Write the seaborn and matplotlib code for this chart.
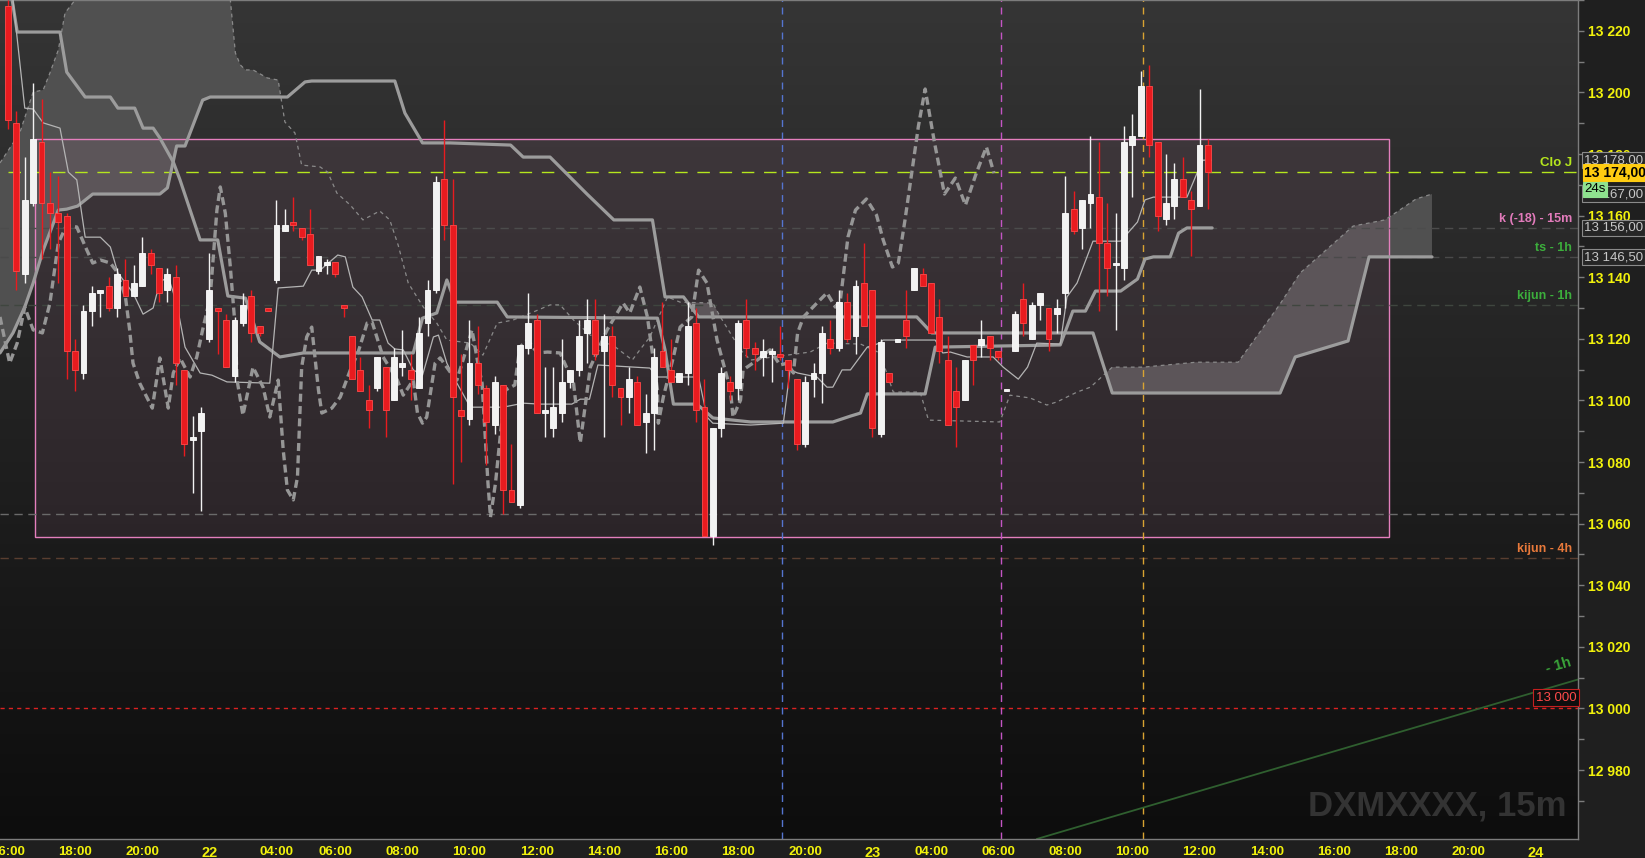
import numpy as np
import pandas as pd
import matplotlib
matplotlib.use("Agg")
import matplotlib.pyplot as plt
import matplotlib.transforms as mtransforms
from matplotlib.patches import Rectangle
import seaborn as sns

sns.set_theme(style="dark")
plt.rcParams['font.family'] = ['Liberation Sans', 'DejaVu Sans']

# 15m candles, bar 0 = day 21 16:00
opens = [13228, 13190, 13141, 13164, 13184, 13164, 13161, 13160, 13116, 13109,
         13129, 13135, 13137, 13130, 13139, 13134, 13137, 13148, 13143, 13136,
         13140, 13110, 13087, 13090, 13120, 13130, 13126, 13108, 13125, 13134,
         13124, 13130, 13139, 13155, 13158, 13156, 13154, 13142, 13144, 13145,
         13131, 13121, 13110, 13100, 13104, 13111, 13100, 13111, 13110, 13104,
         13125, 13136, 13172, 13157, 13097, 13094, 13112, 13104, 13092, 13105,
         13071, 13066, 13117, 13126, 13096, 13091, 13096, 13106, 13110, 13122,
         13126, 13116, 13121, 13104, 13101, 13106, 13093, 13096, 13116, 13110,
         13106, 13109, 13125, 13098, 13056, 13091, 13106, 13104, 13126, 13117,
         13114, 13115, 13115, 13113, 13107, 13086, 13107, 13109, 13120, 13117,
         13132, 13121, 13138, 13136, 13089, 13109, 13119, 13126, 13136, 13141,
         13138, 13127, 13113, 13103, 13100, 13118, 13118, 13121, 13116, 13103,
         13116, 13133, 13120, 13131, 13130, 13128, 13135, 13162, 13156, 13164,
         13166, 13151, 13144, 13143, 13183, 13186, 13202, 13184, 13159, 13163,
         13172, 13165, 13163, 13183]
highs = [13230, 13194, 13179, 13203, 13198, 13174, 13173, 13161, 13120, 13131,
         13137, 13136, 13140, 13143, 13146, 13144, 13153, 13149, 13143, 13143,
         13144, 13110, 13095, 13098, 13148, 13130, 13128, 13127, 13135, 13136,
         13124, 13130, 13165, 13162, 13166, 13156, 13162, 13147, 13146, 13145,
         13131, 13121, 13114, 13105, 13114, 13111, 13117, 13123, 13115, 13127,
         13139, 13173, 13191, 13172, 13115, 13126, 13124, 13105, 13108, 13105,
         13086, 13118, 13135, 13128, 13111, 13111, 13120, 13110, 13126, 13133,
         13133, 13128, 13124, 13104, 13111, 13108, 13102, 13117, 13132, 13120,
         13109, 13132, 13130, 13107, 13091, 13111, 13108, 13126, 13133, 13119,
         13120, 13117, 13124, 13113, 13107, 13108, 13112, 13124, 13126, 13136,
         13135, 13139, 13151, 13136, 13120, 13109, 13120, 13136, 13143, 13143,
         13138, 13133, 13121, 13111, 13113, 13118, 13126, 13121, 13116, 13103.5,
         13129, 13138, 13132, 13135, 13130, 13133, 13173, 13168, 13165, 13186,
         13184, 13164, 13161, 13189, 13193, 13207, 13209, 13184, 13180, 13177,
         13179, 13168, 13201, 13185]
lows = [13188, 13136, 13138, 13163, 13146, 13149, 13138, 13107, 13103, 13107,
        13124, 13127, 13129, 13127, 13134, 13134, 13137, 13141, 13132, 13132,
        13105, 13082, 13070, 13064, 13119, 13115, 13111, 13106, 13124, 13119,
        13121, 13129, 13138, 13155, 13155, 13152, 13144, 13141, 13141, 13140,
        13127, 13107, 13103, 13091, 13103, 13088, 13100, 13108, 13100, 13104,
        13121, 13135, 13152, 13073, 13080, 13092, 13102, 13079, 13089, 13063,
        13067, 13065, 13115, 13096, 13088, 13088, 13093, 13104, 13108, 13112,
        13113, 13088, 13101, 13092, 13096, 13092, 13083, 13084, 13111, 13106,
        13106, 13105, 13093, 13056, 13053, 13088, 13100, 13100, 13114, 13110,
        13108, 13106, 13113, 13104, 13084, 13085, 13101, 13099, 13115, 13116,
        13119, 13115, 13124, 13088, 13088, 13106, 13119, 13117, 13136, 13137,
        13122, 13112, 13092, 13085, 13100, 13105, 13114, 13113, 13113, 13103,
        13116, 13121, 13120, 13126, 13116, 13122, 13130, 13154, 13149, 13156,
        13129, 13134, 13123, 13139, 13166, 13186, 13179, 13155, 13157, 13159,
        13166, 13147, 13163, 13162]
closes = [13191, 13142, 13165, 13185, 13164, 13161, 13158, 13116, 13110, 13129,
          13135, 13136, 13130, 13141, 13134, 13138, 13148, 13144, 13135, 13141,
          13112, 13086, 13088, 13096, 13136, 13129, 13111, 13126, 13131, 13122,
          13122, 13129, 13157, 13157, 13157, 13153, 13144, 13147, 13145, 13141,
          13130, 13107, 13103, 13097, 13114, 13097, 13114, 13112, 13107, 13122,
          13136, 13171, 13157, 13101, 13095, 13112, 13105, 13093, 13106, 13071,
          13067, 13118, 13125, 13096, 13097, 13098, 13106, 13110, 13121, 13126,
          13115, 13121, 13105, 13101, 13107, 13092, 13096, 13114, 13111, 13106,
          13109, 13124, 13097, 13056, 13091, 13109, 13103, 13125, 13117, 13115,
          13116, 13116, 13114, 13110, 13086, 13106, 13109, 13122, 13117, 13132,
          13120, 13137, 13124, 13091, 13119, 13106, 13120, 13121, 13143, 13137,
          13122, 13116, 13092, 13098, 13113, 13113, 13120, 13117, 13114, 13103.5,
          13128, 13125, 13131, 13135, 13120, 13130, 13161, 13155, 13165, 13167,
          13151, 13143, 13144.5, 13184, 13186, 13202, 13183, 13160, 13164, 13172,
          13166, 13162, 13183, 13174]

# indicator lines, (bar, price) vertices
base_x = [0.5, 1.1, 6.2, 7.0, 9.2, 12.2, 13.1, 15.1, 16.1, 17.3, 18.1, 19.7, 20.5, 22.9,
          25.0, 26.2, 28.3, 30.0, 32.4, 35.2, 48.3, 49.4, 51.1, 52.3, 53.3, 58.3, 59.5,
          77.4, 78.3, 79.3, 82.1, 84.0, 88.5, 98.3, 100.4, 101.6, 102.4, 109.3, 110.5,
          125.4, 126.2, 126.9, 128.4, 129.6, 132.6, 134.6, 135.5, 136.5, 138.5, 139.5,
          140.5, 143.5]
base_y = [13230, 13219.6, 13219.6, 13206.6, 13198.5, 13198.5, 13194.9, 13194.9, 13188.4,
          13188.4, 13185.2, 13177.4, 13171.6, 13152.1, 13152.1, 13133.9, 13133.2, 13119.0,
          13114.1, 13115.4, 13115.4, 13126.7, 13128.4, 13139.1, 13131.9, 13131.9, 13127.1,
          13126.7, 13116.4, 13098.8, 13098.8, 13094.3, 13093.0, 13093.0, 13094.9, 13095.9,
          13102.1, 13102.1, 13117.3, 13118.0, 13123.8, 13129.0, 13129.0, 13135.5, 13135.5,
          13139.4, 13145.9, 13146.6, 13146.6, 13154.3, 13156.0, 13156.0]

spanb_x = [-0.95, 0.6, 2.0, 3.0, 4.2, 6.0, 7.0, 8.3, 10.1, 18.1, 19.0, 20.1, 21.1, 23.2,
           24.1, 33.3, 35.4, 36.2, 46.1, 47.3, 49.4, 52.7, 59.9, 61.4, 64.6, 69.0, 72.2,
           76.8, 78.3, 80.5, 82.3, 108.3, 110.1, 129.3, 131.6, 151.6, 153.4, 159.7, 162.2,
           169.7]
spanb_y = [13115.4, 13121.9, 13130.3, 13138.1, 13148.8, 13161.8, 13162.1, 13163.1, 13167.0,
           13167.0, 13169.0, 13182.6, 13182.6, 13197.5, 13198.5, 13198.5, 13203.4, 13203.7,
           13203.7, 13193.3, 13183.6, 13183.6, 13182.9, 13179.0, 13179.0, 13167.0, 13158.6,
           13158.6, 13133.6, 13133.6, 13127.1, 13127.1, 13121.9, 13121.9, 13102.4, 13102.4,
           13114.1, 13119.3, 13146.6, 13146.6]

spana_x = [-0.95, 1.4, 3.0, 4.2, 5.0, 6.0, 6.8, 8.0, 11.0, 22.9, 26.5, 27.1, 27.7, 28.3,
           29.2, 30.9, 32.2, 33.0, 34.2, 35.0, 37.2, 38.1, 39.2, 40.8, 42.3, 44.3, 45.5,
           46.5, 47.7, 49.5, 51.1, 52.3, 55.1, 56.6, 58.3, 60.2, 62.6, 64.6, 65.8, 67.4,
           69.4, 72.4, 74.4, 75.3, 76.5, 78.6, 80.1, 84.0, 84.9, 87.3, 88.5, 91.2, 95.6,
           97.6, 101.6, 103.9, 105.5, 108.7, 109.7, 118.2, 119.4, 121.8, 123.8, 125.0,
           127.4, 129.0, 131.6, 135.3, 141.6, 146.6, 151.6, 154.0, 160.3, 164.1, 167.8,
           169.7]
spana_y = [13177.1, 13186.8, 13200.1, 13200.8, 13206.3, 13213.8, 13225.8, 13230, 13243,
           13243, 13230, 13212.8, 13208.9, 13207.3, 13207.3, 13204.7, 13204.0, 13190.4,
           13186.8, 13176.4, 13175.8, 13174.1, 13167.3, 13163.4, 13158.6, 13161.5, 13158.6,
           13150.4, 13138.1, 13130.3, 13125.1, 13119.6, 13118.6, 13114.7, 13125.1, 13126.1,
           13128.7, 13131.0, 13131.0, 13126.1, 13121.2, 13117.3, 13113.1, 13116.4, 13120.6,
           13133.6, 13131.9, 13131.6, 13127.1, 13116.4, 13113.1, 13114.1, 13115.7, 13118.6,
           13118.3, 13115.4, 13102.7, 13102.7, 13093.6, 13093.0, 13101.7, 13100.8, 13098.5,
           13099.5, 13102.7, 13104.3, 13110.8, 13110.8, 13112.4, 13112.4, 13131.3, 13141.4,
           13156.6, 13158.6, 13165.4, 13167.0]

conv_x = [0.6, 2.0, 3.0, 4.2, 6.2, 7.2, 8.2, 9.2, 11.0, 12.2, 13.1, 14.9, 16.1, 17.3, 18.1,
          19.1, 20.1, 21.1, 22.9, 24.3, 26.1, 31.2, 32.2, 35.2, 36.2, 37.2, 39.3, 40.2,
          41.1, 42.2, 43.4, 44.3, 45.3, 46.1, 47.1, 48.3, 49.4, 50.7, 51.3, 52.3, 53.5,
          55.1, 59.0, 61.4, 63.4, 67.2, 68.2, 69.3, 70.3, 76.5, 77.4, 82.3, 83.3, 84.0,
          88.5, 92.4, 93.2, 94.1, 96.4, 97.6, 98.3, 99.4, 100.4, 102.4, 103.9, 104.3,
          110.5, 111.4, 112.3, 114.3, 117.4, 118.6, 120.4, 121.5, 122.6, 125.4, 126.2,
          127.4, 129.3, 132.6, 134.6, 135.5, 136.5, 140.5, 141.7, 142.4, 143.4]
conv_y = [13230, 13194.9, 13194.6, 13190.1, 13188.4, 13174.1, 13171.6, 13153.0, 13153.0,
          13149.8, 13141.4, 13134.9, 13128.0, 13130.0, 13138.4, 13140.1, 13131.6, 13117.3,
          13108.9, 13108.2, 13106.0, 13105.6, 13136.5, 13137.1, 13142.3, 13142.3, 13147.2,
          13146.6, 13136.8, 13133.6, 13126.1, 13126.1, 13118.6, 13116.7, 13116.4, 13109.9,
          13108.2, 13120.6, 13121.2, 13112.1, 13105.6, 13097.8, 13097.8, 13099.1, 13098.8,
          13098.8, 13100.4, 13100.4, 13111.5, 13110.5, 13107.6, 13107.6, 13094.6, 13092.6,
          13092.0, 13092.6, 13109.9, 13108.9, 13107.6, 13104.3, 13104.3, 13109.9, 13109.9,
          13117.3, 13118.6, 13119.6, 13119.6, 13115.4, 13115.7, 13114.1, 13114.1, 13110.8,
          13106.9, 13110.8, 13118.6, 13118.3, 13133.6, 13138.1, 13151.7, 13151.7, 13157.9,
          13165.1, 13166.0, 13166.0, 13173.8, 13178.0, 13178.0]

lag_x = [-0.95, 0.2, 1.1, 2.0, 3.0, 4.1, 5.0, 6.0, 7.0, 8.2, 9.4, 10.1, 11.0, 12.2, 13.0,
         14.0, 14.5, 14.9, 15.7, 17.2, 18.1, 19.1, 19.7, 20.5, 21.7, 22.5, 23.2, 24.1,
         24.9, 25.3, 25.9, 26.5, 27.1, 27.3, 28.0, 29.2, 30.4, 31.2, 32.2, 32.8, 33.3,
         34.0, 34.5, 35.0, 35.6, 36.2, 37.0, 37.4, 38.6, 39.6, 40.8, 41.7, 42.8, 43.4,
         44.7, 46.4, 47.1, 48.3, 48.8, 49.4, 49.9, 50.9, 51.5, 52.7, 53.5, 54.7, 55.3,
         56.0, 56.5, 57.2, 57.5, 58.1, 58.7, 59.3, 60.4, 61.0, 61.9, 63.1, 64.3, 65.8,
         67.4, 68.2, 69.4, 71.4, 73.3, 74.1, 75.3, 76.2, 77.4, 77.5, 78.1, 79.3, 80.1,
         81.5, 82.3, 83.3, 84.5, 86.1, 86.4, 87.3, 87.6, 89.3, 90.8, 92.0, 92.9, 93.6,
         94.1, 94.8, 96.4, 97.6, 98.6, 99.2, 100.1, 101.0, 102.3, 103.5, 104.3, 105.4,
         106.1, 106.9, 108.5, 109.3, 110.4, 111.6, 112.9, 114.1, 115.4, 116.6, 117.5]
lag_y = [13127.1, 13112.1, 13118.6, 13130.3, 13122.9, 13121.9, 13131.6, 13151.1, 13156.9,
         13156.3, 13148.8, 13144.6, 13145.6, 13144.6, 13141.7, 13133.6, 13122.9, 13112.1,
         13105.6, 13097.5, 13113.8, 13097.5, 13108.9, 13113.8, 13107.6, 13114.1, 13122.9,
         13133.6, 13161.8, 13169.3, 13160.8, 13143.3, 13122.9, 13106.6, 13095.2, 13110.8,
         13104.3, 13094.6, 13106.6, 13083.9, 13070.9, 13067.7, 13075.1, 13110.8, 13120.6,
         13123.8, 13103.4, 13095.9, 13097.5, 13101.1, 13109.9, 13115.4, 13125.1, 13125.4,
         13114.1, 13106.6, 13101.7, 13106.6, 13095.9, 13092.6, 13094.6, 13112.1, 13113.8,
         13109.2, 13106.6, 13117.3, 13122.9, 13112.1, 13105.6, 13073.2, 13062.1, 13073.2,
         13089.4, 13103.4, 13105.0, 13117.3, 13119.6, 13115.4, 13115.7, 13115.4, 13105.6,
         13086.2, 13110.8, 13122.9, 13131.6, 13128.4, 13136.8, 13127.1, 13103.4, 13092.6,
         13101.1, 13114.1, 13123.8, 13127.1, 13142.3, 13138.1, 13119.6, 13103.4, 13094.6,
         13100.1, 13109.9, 13113.1, 13116.4, 13111.5, 13112.1, 13108.9, 13121.9, 13127.1,
         13131.6, 13134.9, 13130.3, 13132.6, 13153.0, 13161.8, 13165.4, 13160.2, 13152.1,
         13143.3, 13144.6, 13158.6, 13189.1, 13201.1, 13183.9, 13167.0, 13172.2, 13163.4,
         13173.8, 13182.3, 13173.8]

trend_x = [122.6, 187.1]
trend_y = [12957.6, 13009.4]

range_box = (3.2, 164.6, 13055.5, 13185.0)   # bar from, bar to, low, high
session_lines = [(92.3, '#5575d0'), (118.3, '#c455c4'), (135.3, '#d9a332')]

levels = [
    (13174.0, '#b5e61d', 'Clo J', '#b5e61d'),
    (13156.0, '#4c4c4c', 'k (-18) - 15m', '#e27bbb'),
    (13146.5, '#4a4a4a', 'ts - 1h', '#3cae3c'),
    (13131.0, '#3f463f', 'kijun - 1h', '#3cae3c'),
    (13063.0, '#6a6a6a', '', ''),
    (13048.7, '#5a3e30', 'kijun - 4h', '#e8793a'),
]

tick_pos = [0, 8, 16, 24, 32, 39, 47, 55, 63, 71, 79, 87, 95, 103, 110, 118, 126, 134,
            142, 150, 158, 166, 174, 182]
tick_lab = ['16:00', '18:00', '20:00', '22', '04:00', '06:00', '08:00', '10:00', '12:00',
            '14:00', '16:00', '18:00', '20:00', '23', '04:00', '06:00', '08:00', '10:00',
            '12:00', '14:00', '16:00', '18:00', '20:00', '24']

price_tags = [(13178.0, '13 178,00'), (13167.0, '13 167,00'), (13156.0, '13 156,00'),
              (13146.5, '13 146,50')]
last_price = 13174.0

XMIN, XMAX = -0.95, 187.1
YMIN, YMAX = 12957.6, 13230.0

candles = pd.DataFrame({'open': opens, 'high': highs, 'low': lows, 'close': closes})
candles['bar'] = np.arange(len(candles))
candles['up'] = candles['close'] >= candles['open']

fig = plt.figure(figsize=(16.45, 8.58), dpi=100, facecolor='#1f1f1f')
ax = fig.add_axes([0, 19 / 858, 1578 / 1645, 839 / 858])

# background gradient, lighter at the top
grad = np.linspace(0, 1, 256).reshape(-1, 1)
bg = matplotlib.colors.LinearSegmentedColormap.from_list('bg', ['#353535', '#0d0d0d'])
ax.imshow(grad, extent=[XMIN, XMAX, YMIN, YMAX], aspect='auto', cmap=bg, zorder=0,
          origin='upper')

# cloud between span A and span B (where A above B)
gx = np.union1d(spana_x, spanb_x)
ga = np.interp(gx, spana_x, spana_y)
gb = np.interp(gx, spanb_x, spanb_y)
ax.fill_between(gx, gb, ga, where=ga > gb, interpolate=True, color='#505050',
                lw=0, zorder=1)

# range rectangle
x0, x1, lo, hi = range_box
ax.add_patch(Rectangle((x0, lo), x1 - x0, hi - lo, facecolor=(0.95, 0.6, 0.8, 0.08),
                       edgecolor='#e47fbd', lw=1.0, zorder=1.5))

# horizontal levels
for y, lc, txt, tc in levels:
    ax.hlines(y, 0 if txt == 'Clo J' else XMIN, XMAX, colors=lc, lw=1.0,
              linestyles=(0, (9, 7)) if txt == 'Clo J' else (0, (6, 4)), zorder=2)
    if txt:
        ax.text(186.4, y + 1.0, txt, color=tc, fontsize=9.5 if txt == 'Clo J' else 9,
                fontweight='bold', ha='right', va='bottom', zorder=6)
ax.hlines(13000, XMIN, XMAX, colors='#dc2222', lw=1.0, linestyles=(0, (3, 3)), zorder=2)

# session separators
for sx, sc in session_lines:
    ax.vlines(sx, YMIN, YMAX, colors=sc, lw=1.0, linestyles=(0, (5, 4)), zorder=2)

# trend line
sns.lineplot(x=trend_x, y=trend_y, ax=ax, color='#2f5f2f', linewidth=1.3, zorder=2)
ax.text(186.5, 13010.5, '- 1h', color='#3aa53a', fontsize=10.5, fontweight='bold',
        rotation=16, ha='right', va='bottom', zorder=6)

# ichimoku lines
sns.lineplot(x=spana_x, y=spana_y, ax=ax, sort=False, estimator=None, color='#8a8a8a',
             linewidth=0.9, linestyle=(0, (3, 3)), zorder=3)
sns.lineplot(x=spanb_x, y=spanb_y, ax=ax, sort=False, estimator=None, color='#9c9c9c',
             linewidth=2.3, zorder=3)
sns.lineplot(x=base_x, y=base_y, ax=ax, sort=False, estimator=None, color='#9c9c9c',
             linewidth=2.3, zorder=3)
sns.lineplot(x=conv_x, y=conv_y, ax=ax, sort=False, estimator=None, color='#b4b4b4',
             linewidth=0.9, zorder=3)
sns.lineplot(x=lag_x, y=lag_y, ax=ax, sort=False, estimator=None, color='#969696',
             linewidth=2.4, linestyle=(0, (2.4, 1.3)), zorder=3)

# candles
col_up, col_dn = '#f2f2f2', '#e81b1f'
wick_cols = np.where(candles['up'], col_up, col_dn)
ax.vlines(candles['bar'], candles['low'], candles['high'], colors=wick_cols, lw=1.0,
          zorder=4)
body_lo = candles[['open', 'close']].min(axis=1)
body_h = (candles['close'] - candles['open']).abs().clip(lower=0.6)
ax.bar(candles['bar'], body_h, bottom=body_lo, width=0.7,
       color=np.where(candles['up'], col_up, col_dn),
       edgecolor=np.where(candles['up'], '#ffffff', '#ff4a4a'), linewidth=0.6, zorder=5)

ax.set_xlim(XMIN, XMAX)
ax.set_ylim(YMIN, YMAX)
ax.set_xlabel('')
ax.set_ylabel('')
ax.grid(False)
ax.set_facecolor('#1a1a1a')

ax.spines['left'].set_visible(False)
for s in ['right', 'bottom', 'top']:
    ax.spines[s].set_color('#7c7c7c')
    ax.spines[s].set_linewidth(1.0)

yt = list(range(12980, 13221, 20))
ax.yaxis.tick_right()
ax.set_yticks(yt)
ax.set_yticklabels([f"{v // 1000} {v % 1000:03d}" for v in yt])
ax.set_yticks(list(range(12970, 13231, 20)), minor=True)
ax.tick_params(axis='y', which='both', direction='out', length=4, width=1,
               colors='#7c7c7c', labelcolor='#f2f20c', labelsize=10, pad=3)
ax.set_xticks(tick_pos)
ax.set_xticklabels(tick_lab)
ax.tick_params(axis='x', direction='out', length=3, width=1, colors='#7c7c7c',
               labelcolor='#f2f20c', labelsize=9.5, pad=2)
for lbl in ax.get_yticklabels():
    lbl.set_fontweight('bold')
for lbl in ax.get_xticklabels():
    lbl.set_fontweight('bold')
    if len(lbl.get_text()) == 2:
        lbl.set_fontsize(10.5)

# price tags on the axis
tr = mtransforms.blended_transform_factory(ax.transAxes, ax.transData)
for y, txt in price_tags:
    ax.text(1.004, y, txt, transform=tr, fontsize=9.5, color='#c8c8c8', ha='left',
            va='center', clip_on=False, zorder=7,
            bbox=dict(boxstyle='square,pad=0.15', fc='#262626', ec='#8a8a8a', lw=0.8))
ax.text(1.004, last_price, '13 174,00', transform=tr, fontsize=10, color='black',
        fontweight='bold', ha='left', va='center', clip_on=False, zorder=8,
        bbox=dict(boxstyle='square,pad=0.12', fc='#ffcc11', ec='#ffcc11', lw=0.8))
ax.text(1.004, 13168.6, '24s', transform=tr, fontsize=9.5, color='black',
        ha='left', va='center', clip_on=False, zorder=9,
        bbox=dict(boxstyle='square,pad=0.12', fc='#8fe28f', ec='#8fe28f', lw=0.8))
ax.text(0.999, 13001.5, '13 000', transform=tr, fontsize=9.5, color='#ff4a4a',
        ha='right', va='bottom', zorder=7,
        bbox=dict(boxstyle='square,pad=0.2', fc='#0e0e0e', ec='#c42020', lw=0.8))

# watermark
ax.text(0.993, 0.02, 'DXMXXXX, 15m', transform=ax.transAxes, fontsize=25,
        fontweight='bold', color='#333333', ha='right', va='bottom', zorder=1)

fig.savefig('out.png', dpi=100, facecolor=fig.get_facecolor())
